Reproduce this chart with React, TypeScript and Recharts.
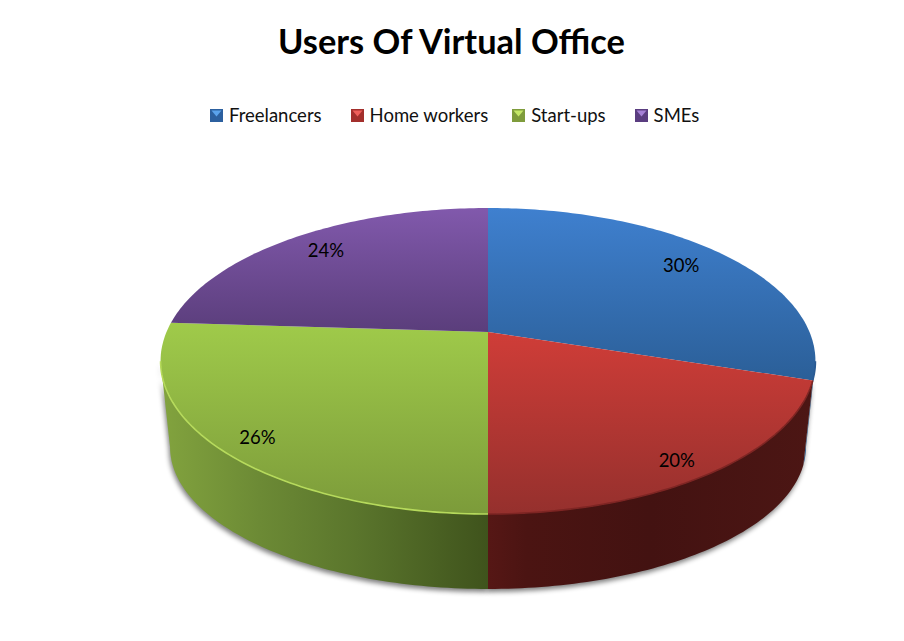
import React from "react";
import { PieChart, Pie, Legend } from "recharts";

const chartTitle = "Users Of Virtual Office";
const categories = ["Freelancers", "Home workers", "Start-ups", "SMEs"];
const shares = [30, 20, 26, 24];

const topStart = ["#3f80cf", "#d03d38", "#9fca4a", "#8159ac"];
const topEnd = ["#2b5f98", "#95302d", "#7c9b3a", "#5b3e7c"];
const topY1 = [208, 330, 325, 208];
const topY2 = [380, 514, 514, 330];
const rimColors = ["#2a5a92", "#7e2523", "#b6da5c", "#8f6ab5"];
const wallStops = [
  [["0", "#2b5f98"], ["1", "#1e3f66"]],
  [["0", "#561715"], ["0.12", "#4b1412"], ["0.5", "#431211"], ["1", "#4c1614"]],
  [["0", "#82a33e"], ["0.3", "#6c8a35"], ["0.6", "#5a752c"], ["1", "#3f531c"]],
  [["0", "#4b3366"], ["1", "#4b3366"]],
];
const wallX1 = [800, 488, 162, 162];
const wallX2 = [816, 812, 488, 488];
const iconBase = ["#2c609f", "#a32f2c", "#7f9c3c", "#5a3d80"];
const iconLight = ["#5ba3ec", "#ef5f5a", "#c5e868", "#a580d6"];
const legendGaps = [0, 29, 24, 29];

const FONT = "Lato, 'Open Sans', sans-serif";
const TILT = { ry: 0.4672, lift: 0.0885, waist: 0.9817, depth: 0.2626, shrinkX: 0.971, shrinkY: 0.928 };
const FRONT_FROM = 101;
const FRONT_TO = 259;

function project(theta: number, r: number, cx: number, cy: number, R: number) {
  const t = (theta * Math.PI) / 180;
  const u = Math.sin(t) * r;
  const v = -Math.cos(t) * r;
  const a = R * TILT.ry;
  const b = -R * TILT.lift;
  const den = 1 + (b / a) * v;
  return { x: cx + (R * TILT.waist * u) / den, y: cy + (a * v + b) / den };
}

function arcPoints(from: number, to: number, cx: number, cy: number, R: number) {
  const pts: { x: number; y: number }[] = [];
  const n = Math.max(2, Math.ceil(Math.abs(to - from)));
  for (let i = 0; i <= n; i++) pts.push(project(from + ((to - from) * i) / n, 1, cx, cy, R));
  return pts;
}

const toPath = (pts: { x: number; y: number }[]) =>
  pts.map((p, i) => `${i ? "L" : "M"}${p.x.toFixed(2)} ${p.y.toFixed(2)}`).join(" ");

function TopFace(props: any) {
  const { cx, cy, outerRadius, startAngle, endAngle, index, fill } = props;
  const from = 90 - startAngle;
  const to = 90 - endAngle;
  const apex = project(0, 0, cx, cy, outerRadius);
  const arc = arcPoints(from, to, cx, cy, outerRadius);
  const d = `M${apex.x} ${apex.y} ${toPath(arc).replace("M", "L")} Z`;
  const lo = Math.max(from, FRONT_FROM);
  const hi = Math.min(to, FRONT_TO);
  return (
    <g>
      <path d={d} fill={fill} stroke="none" />
      {hi > lo && (
        <path
          d={toPath(arcPoints(lo, hi, cx, cy, outerRadius))}
          fill="none"
          stroke={rimColors[index]}
          strokeWidth={1.6}
        />
      )}
    </g>
  );
}

function wallPath(props: any) {
  const { cx, cy, outerRadius, startAngle, endAngle } = props;
  const lo = Math.max(90 - startAngle, FRONT_FROM);
  const hi = Math.min(90 - endAngle, FRONT_TO);
  if (hi <= lo) return null;
  const top = arcPoints(lo, hi, cx, cy, outerRadius);
  const lowCy = cy + outerRadius * TILT.depth;
  const low = top
    .map((p) => ({ x: cx + (p.x - cx) * TILT.shrinkX, y: lowCy + (p.y - cy) * TILT.shrinkY }))
    .reverse();
  return `${toPath(top)} ${toPath(low).replace("M", "L")} Z`;
}

function WallShadow(props: any) {
  const d = wallPath(props);
  if (!d) return <g />;
  return <path d={d} fill="#000" opacity={0.5} filter="url(#wallShadow)" transform="translate(-1 3)" />;
}

function Wall(props: any) {
  const d = wallPath(props);
  if (!d) return <g />;
  return <path d={d} fill={`url(#wall${props.index})`} />;
}

function PercentLabel(props: any) {
  const { cx, cy, outerRadius, midAngle, value } = props;
  const theta = 90 - midAngle;
  const front = -Math.cos((theta * Math.PI) / 180);
  const p = project(theta, 0.84 + 0.04 * front, cx, cy, outerRadius);
  return (
    <text
      x={p.x - 1.5}
      y={p.y + 2 + 7 * front}
      textAnchor="middle"
      dominantBaseline="central"
      fontFamily={FONT}
      fontSize={18.5}
      fill="#000"
    >
      {value}%
    </text>
  );
}

function LegendRow() {
  return (
    <div style={{ display: "flex", alignItems: "center", height: 24, paddingLeft: 210, fontFamily: FONT, fontSize: 18.5, color: "#111" }}>
      {categories.map((name, i) => (
        <div key={name} style={{ display: "flex", alignItems: "center", marginLeft: legendGaps[i] }}>
          <svg width={13} height={13} style={{ marginRight: 6, display: "block" }}>
            <rect width={13} height={13} fill={iconBase[i]} />
            <polygon points="1.5,1.5 11.5,1.5 6.5,7.5" fill={iconLight[i]} />
          </svg>
          <span>{name}</span>
        </div>
      ))}
    </div>
  );
}

const pieData = categories.map((name, i) => ({ name, value: shares[i], fill: `url(#top${i})` }));

export default function App() {
  const pieBase = {
    data: pieData,
    dataKey: "value",
    nameKey: "name",
    cx: 488,
    cy: 361,
    outerRadius: 327.5,
    startAngle: 90,
    endAngle: -270,
    isAnimationActive: false,
    stroke: "none",
  };
  return (
    <div style={{ position: "absolute", left: 0, top: 0, width: 904, height: 641, background: "#fff" }}>
      <PieChart width={904} height={641} margin={{ top: 0, right: 0, bottom: 0, left: 0 }}>
        <defs>
          <filter id="wallShadow" x="-10%" y="-10%" width="120%" height="130%">
            <feGaussianBlur stdDeviation="2.5" />
          </filter>
          {categories.map((_, i) => (
            <linearGradient key={i} id={`top${i}`} gradientUnits="userSpaceOnUse" x1="0" x2="0" y1={topY1[i]} y2={topY2[i]}>
              <stop offset="0" stopColor={topStart[i]} />
              <stop offset="1" stopColor={topEnd[i]} />
            </linearGradient>
          ))}
          {categories.map((_, i) => (
            <linearGradient key={i} id={`wall${i}`} gradientUnits="userSpaceOnUse" x1={wallX1[i]} x2={wallX2[i]} y1="0" y2="0">
              {wallStops[i].map(([o, c]) => (
                <stop key={o} offset={o} stopColor={c} />
              ))}
            </linearGradient>
          ))}
        </defs>
        <text x={451.5} y={54} textAnchor="middle" fontFamily={FONT} fontWeight={700} fontSize={34.4} fill="#000">
          {chartTitle}
        </text>
        <Legend
          content={() => <LegendRow />}
          wrapperStyle={{ position: "absolute", top: 103, left: 0, width: 904, height: 24 }}
        />
        <Pie {...pieBase} shape={WallShadow} legendType="none" />
        <Pie {...pieBase} shape={Wall} legendType="none" />
        <Pie {...pieBase} shape={TopFace} label={PercentLabel} labelLine={false} />
      </PieChart>
    </div>
  );
}
